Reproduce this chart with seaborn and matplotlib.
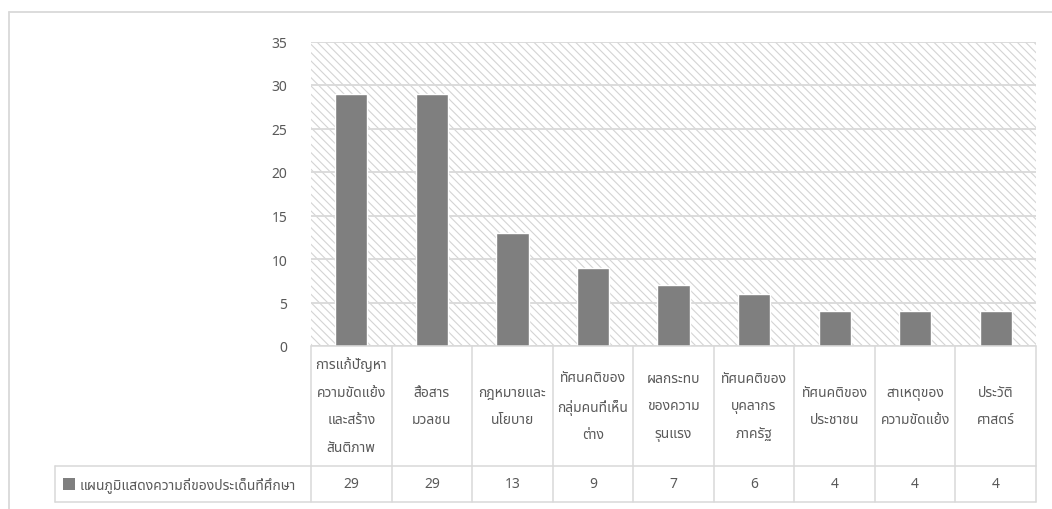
import matplotlib
matplotlib.use("Agg")
import matplotlib.pyplot as plt
from matplotlib import font_manager
from matplotlib.ft2font import FT2Font
from matplotlib.lines import Line2D
from matplotlib.patches import Rectangle
from matplotlib.transforms import Affine2D, blended_transform_factory
import seaborn as sns
import pandas as pd

# ---- data ---------------------------------------------------------------
categories = [
    "การแก้ปัญหา\nความขัดแย้ง\nและสร้าง\nสันติภาพ",
    "สื่อสาร\nมวลชน",
    "กฎหมายและ\nนโยบาย",
    "ทัศนคติของ\nกลุ่มคนที่เห็น\nต่าง",
    "ผลกระทบ\nของความ\nรุนแรง",
    "ทัศนคติของ\nบุคลากร\nภาครัฐ",
    "ทัศนคติของ\nประชาชน",
    "สาเหตุของ\nความขัดแย้ง",
    "ประวัติ\nศาสตร์",
]
values = [29, 29, 13, 9, 7, 6, 4, 4, 4]
series_name = "แผนภูมิแสดงความถี่ของประเด็นที่ศึกษา"
y_ticks = [0, 5, 10, 15, 20, 25, 30, 35]


# ---- font with Thai coverage ---------------------------------------------
def thai_family():
    preferred = ["Leelawadee UI", "Leelawadee", "Tahoma", "Noto Sans Thai",
                 "Noto Sans Thai UI", "Noto Sans Thai Looped", "Sarabun",
                 "Loma", "Garuda", "Norasi", "Kinnari", "Waree"]
    found = {}
    for f in font_manager.fontManager.ttflist:
        try:
            cmap = FT2Font(f.fname).get_charmap()
        except Exception:
            continue
        if 0x0E01 in cmap:
            found.setdefault(f.name, f.fname)
    for p in preferred:
        if p in found:
            return p
    return next(iter(found), "DejaVu Sans")


sns.set_theme(style="white")
fam = thai_family()
plt.rcParams["font.family"] = [fam, "DejaVu Sans"]
plt.rcParams["hatch.linewidth"] = 0.8

W, H, DPI = 1052, 510, 100
GRID = "#d9d9d9"
TEXT = "#595959"
BAR = "#7f7f7f"
FS = 10

fig = plt.figure(figsize=(W / DPI, H / DPI), dpi=DPI)
fig.patch.set_facecolor("white")

# plot area in pixel terms (left, top-of-35, right, baseline)
px_l, px_t, px_r, px_b = 311, 42.5, 1036, 347
ax = fig.add_axes([px_l / W, 1 - px_b / H, (px_r - px_l) / W, (px_b - px_t) / H])

df = pd.DataFrame({"topic": categories, "count": values})
sns.barplot(data=df, x="topic", y="count", color=BAR, saturation=1,
            width=0.4, ax=ax, zorder=3)

n = len(categories)
ax.set_xlim(-0.5, n - 0.5)
ax.set_ylim(0, 35)
ax.set_yticks(y_ticks)
ax.set_xticks([])
ax.set_xlabel("")
ax.set_ylabel("")
ax.tick_params(axis="y", length=0, pad=17, labelsize=FS, labelcolor=TEXT)
for s in ax.spines.values():
    s.set_visible(False)
ax.grid(axis="y", color=GRID, linewidth=1.3, zorder=1)
ax.set_axisbelow(True)

# diagonal pattern fill of the plot area
ax.patch.set_facecolor("white")
ax.patch.set_edgecolor("#d4d4d4")
ax.patch.set_linewidth(0)
ax.patch.set_hatch("\\\\\\\\")

# ---- data table below the plot -------------------------------------------
pix = Affine2D().scale(1, -1).translate(0, H)          # pixel rows from top
col_tr = blended_transform_factory(ax.transData, pix)  # x in category units

row_top, row_mid, row_bot = 347, 467, 503
leg_left = 55
lw = 1.1

def hline(x0, x1, y, tr):
    ax.add_line(Line2D([x0, x1], [y, y], transform=tr, color=GRID, lw=lw,
                       clip_on=False, zorder=4))

def vline(x, y0, y1, tr):
    ax.add_line(Line2D([x, x], [y0, y1], transform=tr, color=GRID, lw=lw,
                       clip_on=False, zorder=4))

hline(-0.5, n - 0.5, row_top, col_tr)
for i in range(n + 1):
    vline(i - 0.5, row_top, row_bot, col_tr)

x_right_px = ax.transData.transform((n - 0.5, 0))[0]
hline(leg_left, x_right_px, row_mid, pix)
hline(leg_left, x_right_px, row_bot, pix)
vline(leg_left, row_mid, row_bot, pix)

for i, (lab, v) in enumerate(zip(categories, values)):
    ax.text(i, (row_top + row_mid) / 2, lab, transform=col_tr, ha="center",
            va="center", fontsize=FS, color=TEXT, linespacing=2.15,
            multialignment="center", clip_on=False)
    ax.text(i, (row_mid + row_bot) / 2, str(v), transform=col_tr,
            ha="center", va="center", fontsize=FS, color=TEXT, clip_on=False)

# series key in the first column
ax.add_patch(Rectangle((63, 479), 12, 12, transform=pix, facecolor=BAR,
                       edgecolor="none", clip_on=False, zorder=5))
ax.text(80, (row_mid + row_bot) / 2, series_name, transform=pix, ha="left",
        va="center", fontsize=FS, color=TEXT, clip_on=False)

# outer chart frame
fig.add_artist(Line2D([9 / W, 9 / W], [0, 1 - 13 / H], color=GRID, lw=1.3,
                      transform=fig.transFigure))
fig.add_artist(Line2D([9 / W, 1], [1 - 13 / H, 1 - 13 / H], color=GRID,
                      lw=1.3, transform=fig.transFigure))

fig.savefig("out.png", dpi=DPI, facecolor="white")
